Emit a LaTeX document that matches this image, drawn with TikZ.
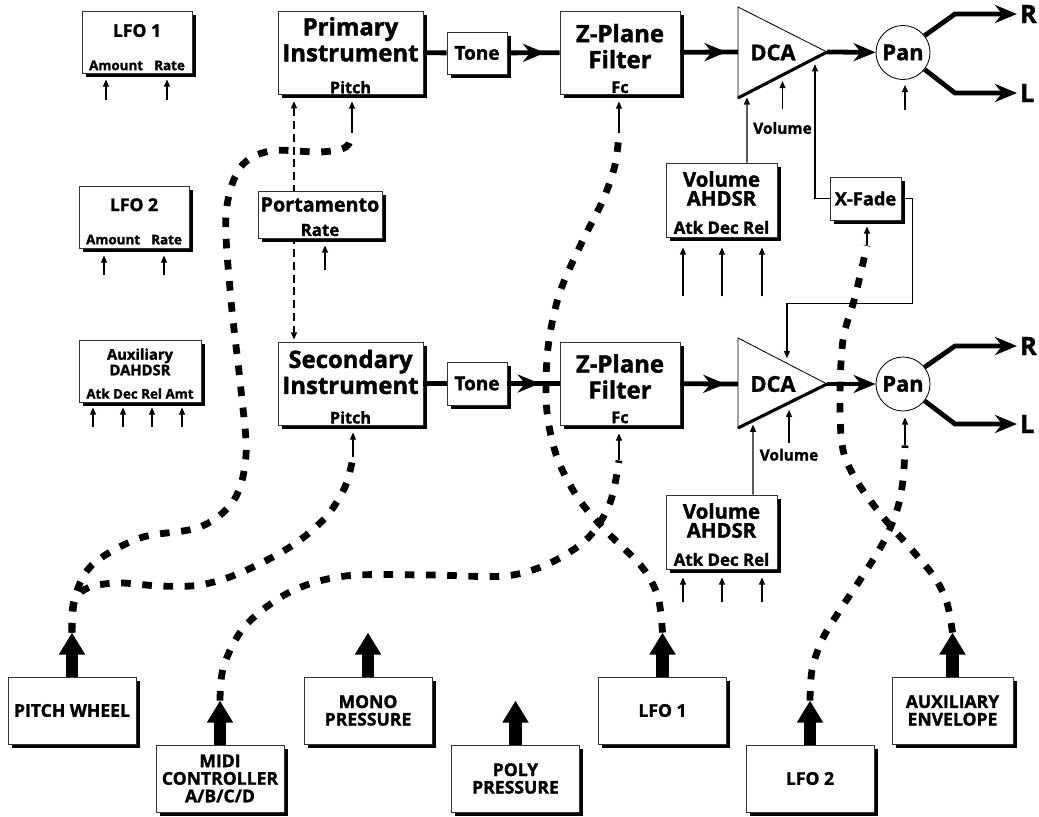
\documentclass[tikz,border=0pt]{standalone}
\usepackage{fontspec}
\setmainfont{Open Sans}[BoldFeatures={FakeBold=1.5}]
\usetikzlibrary{calc, positioning}
\usetikzlibrary{arrows.meta}
\usetikzlibrary{shadows}
\usetikzlibrary{decorations.markings}

\newcommand{\instfont}{\bfseries\fontsize{17}{18.5}\selectfont}
\newcommand{\dcafont}{\bfseries\fontsize{15.5}{15.5}\selectfont}
\newcommand{\envfont}{\bfseries\fontsize{14.5}{13.5}\selectfont}
\newcommand{\tonefont}{\bfseries\fontsize{13.5}{14}\selectfont}
\newcommand{\pinfont}{\bfseries\fontsize{11.5}{12}\selectfont}
\newcommand{\lfofont}{\bfseries\fontsize{12.5}{13}\selectfont}
\newcommand{\knobfont}{\bfseries\fontsize{9.5}{10}\selectfont}
\newcommand{\auxfont}{\bfseries\fontsize{10.5}{9.6}\selectfont}
\newcommand{\srcfont}{\bfseries\fontsize{12.5}{12.5}\selectfont}

\tikzset{
  unit/.style={draw=black!80, line width=0.6pt, fill=white, inner sep=1pt,
    drop shadow={shadow xshift=0.09cm, shadow yshift=-0.09cm, fill=black, opacity=1}},
  head/.style={anchor=center, align=center, inner sep=0pt},
  sig/.style={line width=3.4pt},
  sigarrow/.style={sig, -{Stealth[length=0.55cm, width=0.45cm]}},
  midarrow/.style={sig, postaction={decorate, decoration={markings,
    mark=at position #1 with {\arrow{Stealth[length=0.55cm, width=0.45cm]}}}}},
  ctl/.style={line width=0.9pt, -{Triangle[length=0.18cm, width=0.15cm]}},
  fat/.style={line width=0.32cm, -{Triangle[length=0.55cm, width=0.62cm]}},
  mod/.style={line width=0.17cm, dash pattern=on 0.24cm off 0.29cm},
  glide/.style={line width=0.8pt, dash pattern=on 0.2cm off 0.12cm,
    {Triangle[length=0.18cm, width=0.15cm]}-{Triangle[length=0.18cm, width=0.15cm]}},
  src/.style={unit, minimum width=3.2cm, minimum height=1.675cm, align=center, font=\srcfont},
  panner/.style={circle, draw, line width=0.6pt, fill=white, minimum size=1.35cm,
    inner sep=0pt, font=\dcafont},
  chan/.style={anchor=west, inner sep=2pt, font=\bfseries\fontsize{18}{18}\selectfont},
}

\begin{document}
\begin{tikzpicture}[x=0.025cm, y=-0.025cm]
\useasboundingbox (0,0) rectangle (1039,816);

% left column
\node[unit, minimum width=2.75cm, minimum height=1.55cm,
  label={[head, yshift=-0.5cm, font=\lfofont]north:LFO 1},
  label={[head, yshift=0.2cm, font=\knobfont]south:Amount\hspace{0.28cm}Rate}] (lfoA) at (137,42) {};
\node[unit, minimum width=2.75cm, minimum height=1.55cm,
  label={[head, yshift=-0.48cm, font=\lfofont]north:LFO 2},
  label={[head, yshift=0.22cm, font=\knobfont]south:Amount\hspace{0.28cm}Rate}] (lfoB) at (134,217) {};
\node[unit, minimum width=3.05cm, minimum height=1.55cm,
  label={[head, yshift=-0.56cm, font=\auxfont]north:Auxiliary\\DAHDSR},
  label={[head, yshift=0.22cm, font=\knobfont]south:Atk Dec Rel Amt}] (auxA) at (140,371) {};

% upper voice
\node[unit, minimum width=3.625cm, minimum height=2.075cm,
  label={[head, yshift=-0.72cm, font=\instfont]north:Primary\\Instrument},
  label={[head, yshift=0.18cm, font=\pinfont]south:Pitch}] (prim) at (350.5,52.5) {};
\node[unit, minimum width=1.5cm, minimum height=1.05cm, font=\tonefont] (tone1) at (477,53) {Tone};
\node[unit, minimum width=3cm, minimum height=2.075cm,
  label={[head, yshift=-0.89cm, font=\instfont]north:Z-Plane\\Filter},
  label={[head, yshift=0.18cm, font=\pinfont]south:Fc}] (zf1) at (620,52.5) {};
\draw[line width=0.6pt] (738,7) coordinate (dca1t) -- (827,52) coordinate (dca1out)
  -- (738,98) coordinate (dca1b) -- cycle;
\draw[line width=2.2pt] (dca1b) -- (dca1out);
\coordinate (dca1in) at (738,52);
\node[font=\dcafont] (dca1) at (773,52.5) {DCA};
\node[panner] (pan1) at (903,52.5) {Pan};
\node[chan] (r1) at (1017,14) {R};
\node[chan] (l1) at (1017,93) {L};

% lower voice
\node[unit, minimum width=3.625cm, minimum height=2.075cm,
  label={[head, yshift=-0.76cm, font=\instfont]north:Secondary\\Instrument},
  label={[head, yshift=0.2cm, font=\pinfont]south:Pitch}] (sec) at (350.5,383.5) {};
\node[unit, minimum width=1.5cm, minimum height=1.075cm, font=\tonefont] (tone2) at (477,383.5) {Tone};
\node[unit, minimum width=3cm, minimum height=2.075cm,
  label={[head, yshift=-0.875cm, font=\instfont]north:Z-Plane\\Filter},
  label={[head, yshift=0.2cm, font=\pinfont]south:Fc}] (zf2) at (620,383.5) {};
\draw[line width=0.6pt] (738,338) coordinate (dca2t) -- (827,384) coordinate (dca2out)
  -- (738,428) coordinate (dca2b) -- cycle;
\draw[line width=2.2pt] (dca2b) -- (dca2out);
\coordinate (dca2in) at (738,384);
\node[font=\dcafont] (dca2) at (773,384) {DCA};
\node[panner] (pan2) at (903,384) {Pan};
\node[chan] (r2) at (1017,346) {R};
\node[chan] (l2) at (1017,424) {L};

% envelopes, crossfade, glide
\node[unit, minimum width=2.775cm, minimum height=1.85cm,
  label={[head, yshift=-0.65cm, font=\envfont]north:Volume\\AHDSR},
  label={[head, yshift=0.25cm, font=\bfseries\fontsize{12}{12}\selectfont]south:Atk Dec Rel}] (volA) at (721.5,200) {};
\node[unit, minimum width=2.775cm, minimum height=1.85cm,
  label={[head, yshift=-0.65cm, font=\envfont]north:Volume\\AHDSR},
  label={[head, yshift=0.25cm, font=\bfseries\fontsize{12}{12}\selectfont]south:Atk Dec Rel}] (volB) at (721.5,532) {};
\node[unit, minimum width=1.775cm, minimum height=1.075cm,
  font=\bfseries\fontsize{13}{13}\selectfont] (xfade) at (865.5,198.5) {X-Fade};

\draw[glide, shorten <=0.17cm, shorten >=0.05cm]
  ($(prim.south)+(-56.5,0)$) -- ($(sec.north)+(-56.5,0)$);
\node[unit, minimum width=3.1cm, minimum height=1.175cm,
  label={[head, yshift=-0.35cm, font=\bfseries\fontsize{14}{14}\selectfont]north:Portamento},
  label={[head, yshift=0.21cm, font=\bfseries\fontsize{12}{12}\selectfont]south:Rate}] (porta) at (320,214.5) {};

% bottom sources
\node[src] (pw) at (72,710.5) {PITCH WHEEL};
\node[src] (midi) at (220,778.5) {MIDI\\CONTROLLER\\A/B/C/D};
\node[src] (mono) at (368,710.5) {MONO\\PRESSURE};
\node[src] (poly) at (515.5,778.5) {POLY\\PRESSURE};
\node[src] (lfoC) at (662.5,710.5) {LFO 1};
\node[src] (lfoD) at (810,778.5) {LFO 2};
\node[src, minimum width=3.025cm] (auxC) at (952.5,710.5) {AUXILIARY\\ENVELOPE};
\foreach \s in {pw,midi,mono,poly,lfoC,lfoD,auxC}
  \draw[fat] (\s.north) -- ++(0,-44) coordinate (\s-tip);

% audio path
\draw[sig] (prim) -- (tone1);
\draw[midarrow=0.72] (tone1) -- (zf1);
\draw[midarrow=0.8] (zf1) -- (dca1in);
\draw[sigarrow] (dca1out) -- (pan1);
\draw[sigarrow] (pan1.38) -- ([xshift=-1.55cm]r1.west) -- (r1.west);
\draw[sigarrow] (pan1.-38) -- ([xshift=-1.55cm]l1.west) -- (l1.west);

\draw[sig] (sec) -- (tone2);
\draw[midarrow=0.62] (tone2) -- (zf2);
\draw[midarrow=0.78] (zf2) -- (dca2in);
\draw[sigarrow] (dca2out) -- (pan2);
\draw[sigarrow] (pan2.38) -- ([xshift=-1.55cm]r2.west) -- (r2.west);
\draw[sigarrow] (pan2.-38) -- ([xshift=-1.55cm]l2.west) -- (l2.west);

% control inputs
\foreach \dx in {-31,30} \draw[ctl] ($(lfoA.south)+(\dx,27)$) -- ++(0,-21);
\foreach \dx in {-30,30} \draw[ctl] ($(lfoB.south)+(\dx,27)$) -- ++(0,-20);
\foreach \dx in {-47,-17,12,42} \draw[ctl] ($(auxA.south)+(\dx,25)$) -- ++(0,-20);
\draw[ctl] ($(porta.south)+(5,32)$) -- ++(0,-25);
\foreach \dx in {-38.5,0.5,40.5} \draw[ctl] ($(volA.south)+(\dx,59)$) -- ++(0,-49);
\foreach \dx in {-38.5,0.5,40.5} \draw[ctl] ($(volB.south)+(\dx,33)$) -- ++(0,-25);
\draw[ctl] ($(pan1.south)+(2,30)$) -- ++(0,-25);

\draw[ctl] ($(volA.north)+(25.5,0)$) -- ($(dca1b)!0.1!(dca1out)+(0,4)$);
\draw[ctl] ($(dca1b)!0.5!(dca1out)+(0,34)$) coordinate (vol1pin) -- ++(0,-28);
\node[font=\bfseries\fontsize{11}{11}\selectfont] (vol1lab) at ($(vol1pin)+(0,19)$) {Volume};
\draw[ctl] (xfade.west) -| ($(dca1b)!0.865!(dca1out)+(0,6)$);
\draw[ctl] (xfade.east) -| ($(xfade.east)+(11,105)$) -| ($(dca2t)!0.55!(dca2out)+(0,-5)$);
\draw[ctl] ($(volB.north)+(31.5,0)$) -- ($(dca2b)!0.169!(dca2out)+(0,4)$);
\draw[ctl] ($(dca2b)!0.573!(dca2out)+(0,40)$) coordinate (vol2pin) -- ++(0,-33);
\node[font=\bfseries\fontsize{11}{11}\selectfont] (vol2lab) at ($(vol2pin)+(0,12)$) {Volume};

\draw[ctl] ($(prim.south)+(1.5,39)$) coordinate (primpin) -- ++(0,-32);
\draw[ctl] ($(sec.south)+(2.5,32)$) coordinate (secpin) -- ++(0,-25);
\draw[ctl] ($(zf1.south)+(-1,39)$) coordinate (zf1pin) -- ++(0,-32);
\draw[ctl] ($(zf2.south)+(-1,35)$) coordinate (zf2pin) -- ++(0,-27);
\draw[ctl] ($(xfade.south)+(1.5,25)$) coordinate (xfpin) -- ++(0,-19);
\draw[ctl] ($(pan2.south)+(2,34)$) coordinate (pan2pin) -- ++(0,-28);

% modulation routings
\draw[mod] plot[smooth, tension=0.55] coordinates {(pw-tip) (74,600) (92,565) (140,538)
  (200,527) (234,500) (246,455) (241,390) (231,300) (226,215) (240,168) (270,151)
  (320,152) (346,147) (primpin)};
\draw[mod] plot[smooth, tension=0.55] coordinates {(pw-tip) (75,600) (90,587) (120,583)
  (160,586) (200,585) (240,573) (290,547) (325,518) (345,487) (secpin)};
\draw[mod] plot[smooth, tension=0.55] coordinates {(midi-tip) (224,665) (246,625) (290,592)
  (345,576) (430,575) (505,576) (550,563) (588,538) (610,503) (zf2pin)};
\draw[mod] plot[smooth, tension=0.55] coordinates {(lfoC-tip) (658,597) (642,567) (605,530)
  (578,498) (558,460) (548,420) (546,383) (549,340) (560,292) (582,242) (603,200)
  (615,165) (zf1pin)};
\draw[mod] plot[smooth, tension=0.55] coordinates {(lfoD-tip) (812,670) (822,640) (840,610)
  (860,580) (883,543) (897,510) (903,480) (pan2pin)};
\draw[mod] plot[smooth, tension=0.55] coordinates {(auxC-tip) (947,603) (935,578) (912,550)
  (883,517) (858,483) (843,450) (840,400) (843,340) (855,297) (xfpin)};
\end{tikzpicture}
\end{document}
